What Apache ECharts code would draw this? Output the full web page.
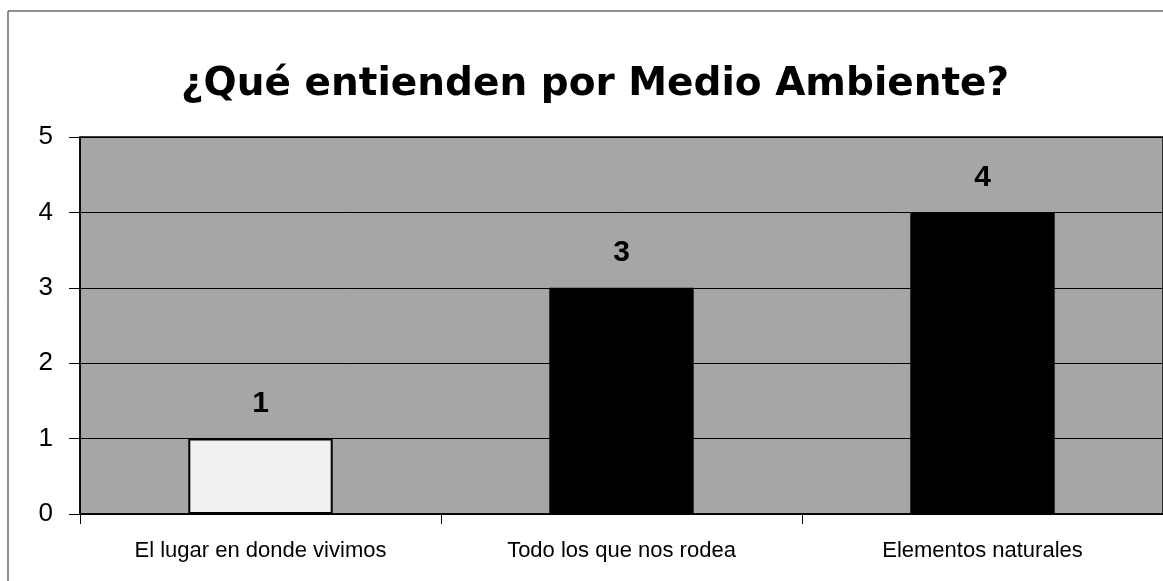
<!DOCTYPE html>
<html lang="es">
<head>
<meta charset="utf-8">
<script src="https://cdn.jsdelivr.net/npm/echarts@6/dist/echarts.min.js"></script>
<title>¿Qué entienden por Medio Ambiente?</title>
<style>
  html, body { margin: 0; padding: 0; background: #fff; }
  #chart { width: 1163px; height: 581px; }
</style>
</head>
<body>
<div id="chart"></div>
<script>
var titleText = '¿Qué entienden por Medio Ambiente?';
var categories = ['El lugar en donde vivimos', 'Todo los que nos rodea', 'Elementos naturales'];
var values = [1, 3, 4];
var yTicks = [0, 1, 2, 3, 4, 5];

// fill per bar: first one light, the others black
var fills = ['#f1f1f1', '#000', '#000'];
var font = '"Liberation Sans", Arial, sans-serif';

var chart = echarts.init(document.getElementById('chart'));
chart.setOption({
    animation: false,
    backgroundColor: '#fff',
    title: {
        text: titleText,
        left: 176,
        top: 60,
        textStyle: { fontFamily: '"DejaVu Sans", sans-serif', fontSize: 39, fontWeight: 'bold', color: '#000' }
    },
    graphic: [{
        type: 'rect',
        shape: { x: 8, y: 11, width: 1200, height: 620 },
        style: { fill: 'none', stroke: '#222', lineWidth: 1 },
        silent: true
    }],
    grid: {
        left: 80, right: -3, top: 137, bottom: 67,
        show: true,
        backgroundColor: '#a6a6a6',
        borderColor: '#000',
        borderWidth: 1.5
    },
    xAxis: {
        type: 'category',
        data: categories,
        axisLine: { lineStyle: { color: '#000', width: 1.5 } },
        axisTick: { show: true, length: 10, lineStyle: { color: '#000' } },
        axisLabel: { color: '#000', fontFamily: font, fontSize: 22, margin: 26 }
    },
    yAxis: {
        type: 'value',
        min: yTicks[0],
        max: yTicks[yTicks.length - 1],
        interval: 1,
        axisLine: { show: true, lineStyle: { color: '#000', width: 1.5 } },
        axisTick: { show: true, length: 11, lineStyle: { color: '#000' } },
        axisLabel: { color: '#000', fontFamily: font, fontSize: 26, margin: 27 },
        splitLine: { lineStyle: { color: '#000', width: 1 } }
    },
    series: [{
        type: 'bar',
        barWidth: '40%',
        data: values.map(function (v, i) {
            return {
                value: v,
                itemStyle: { color: fills[i], borderColor: '#000', borderWidth: i === 0 ? 2 : 0 }
            };
        }),
        label: {
            show: true,
            position: 'top',
            distance: 20,
            color: '#000',
            fontFamily: font,
            fontSize: 30,
            fontWeight: 'bold'
        }
    }]
});
</script>
</body>
</html>
